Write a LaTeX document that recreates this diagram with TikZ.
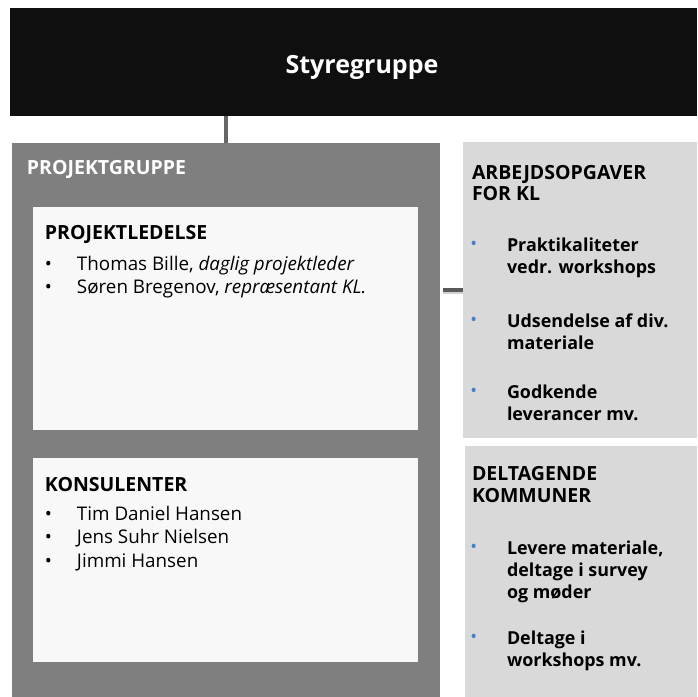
\documentclass[tikz,border=0pt]{standalone}
\usepackage{fontspec}
\setmainfont{Open Sans}
\definecolor{boardblack}{HTML}{0F0F0F}
\definecolor{groupgrey}{HTML}{7F7F7F}
\definecolor{paneWhite}{HTML}{F8F8F8}
\definecolor{taskgrey}{HTML}{D9D9D9}
\definecolor{linkgrey}{HTML}{666666}
\definecolor{dotblue}{HTML}{4A7FC1}
\tikzset{
  panel/.style={inner sep=0pt, outer sep=0pt, anchor=north west},
  txt/.style={inner sep=0pt, outer sep=0pt, anchor=north west, align=left},
  link/.style={draw=linkgrey, line width=3.5pt},
  hdr/.style={txt, font=\fontsize{19.5}{22}\selectfont\bfseries},
  lst/.style={txt, font=\fontsize{18.8}{23.5}\selectfont},
  task/.style={txt, font=\fontsize{17.9}{22}\selectfont\bfseries},
}
% every text block starts with a 16pt strut, so its top edge sits 16pt above its first baseline
\newcommand{\topstrut}{\rule{0pt}{16pt}}
\newcommand{\lbul}{\makebox[32pt][l]{\textbullet}}
\newcommand{\tbul}[1]{\makebox[0pt][r]{\makebox[36pt][l]{\textcolor{dotblue}{\fontsize{14}{14}\selectfont\raisebox{2.5pt}{\textbullet}}}}#1}
\begin{document}
\begin{tikzpicture}[x=1pt,y=-1pt]
\useasboundingbox (0,0) rectangle (697,697);
\fill[white] (0,0) rectangle (697,697);

% boxes
\node[panel, fill=boardblack, minimum width=687pt, minimum height=108pt] (board) at (10,8) {};
\node[panel, fill=groupgrey, minimum width=428pt, minimum height=554pt] (group) at (12,143) {};
\node[panel, fill=paneWhite, minimum width=385pt, minimum height=223pt] (lead) at (33,207) {};
\node[panel, fill=paneWhite, minimum width=385pt, minimum height=204pt] (cons) at (33,458) {};
\node[panel, fill=taskgrey, minimum width=234pt, minimum height=296pt] (klbox) at (463,142) {};
\node[panel, fill=taskgrey, minimum width=232pt, minimum height=251pt] (munbox) at (465,446) {};

% connectors
\draw[link] (group.north) -- (group.north |- board.south);
\draw[draw=black!18, line width=3pt] ([xshift=3pt,yshift=-2pt]klbox.west -| group.east) -- ([yshift=-2pt]klbox.west);
\draw[draw=black!65, line width=3.5pt] ([xshift=3pt]klbox.west -| group.east) -- (klbox.west);

% steering group title
\node[inner sep=0pt, anchor=base, text=white, font=\fontsize{25}{30}\selectfont\bfseries] (styre) at (362,73) {Styregruppe};

% project group
\node[hdr, text=white] (pg) at (27,158) {\topstrut PROJEKTGRUPPE};
\node[hdr] (pl) at (45,223) {\topstrut PROJEKTLEDELSE};
\node[lst] (plist) at (45,254) {\topstrut\lbul Thomas Bille, \textit{daglig projektleder}\\
\lbul Søren Bregenov, \textit{repræsentant KL.}};
\node[hdr] (ko) at (45,475) {\topstrut KONSULENTER};
\node[lst] (klist) at (45,504) {\topstrut\lbul Tim Daniel Hansen\\
\lbul Jens Suhr Nielsen\\
\lbul Jimmi Hansen};

% tasks for KL
\node[hdr, font=\fontsize{19.5}{21}\selectfont\bfseries] (kl) at (472,163) {\topstrut ARBEJDSOPGAVER\\FOR KL};
\node[task] (k1) at (507,235) {\topstrut\tbul{Praktikaliteter}\\vedr. workshops};
\node[task] (k2) at (507,311) {\topstrut\tbul{Udsendelse af div.}\\materiale};
\node[task] (k3) at (507,382) {\topstrut\tbul{Godkende}\\leverancer mv.};

% participating municipalities
\node[hdr, font=\fontsize{19.5}{22}\selectfont\bfseries] (dk) at (472,464) {\topstrut DELTAGENDE\\KOMMUNER};
\node[task] (d1) at (507,538) {\topstrut\tbul{Levere materiale,}\\deltage i survey\\og møder};
\node[task] (d2) at (507,628) {\topstrut\tbul{Deltage i}\\workshops mv.};
\end{tikzpicture}
\end{document}
